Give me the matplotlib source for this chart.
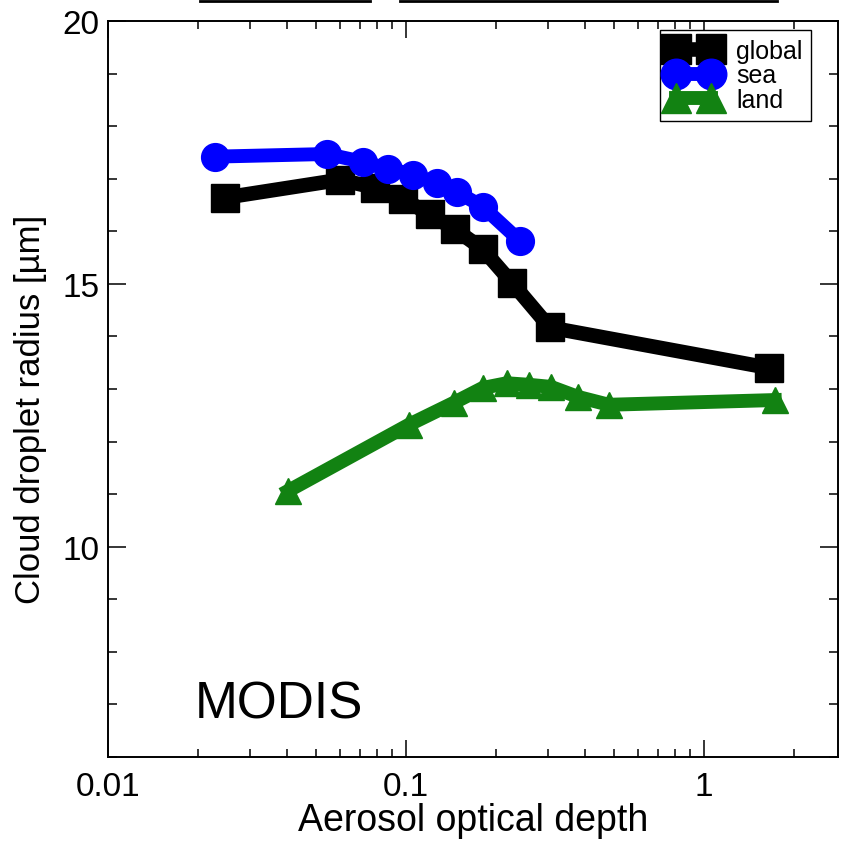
import numpy as np
import matplotlib
matplotlib.use('Agg')
import matplotlib.pyplot as plt
from matplotlib.ticker import LogLocator, FixedLocator, MultipleLocator, NullFormatter
from matplotlib.lines import Line2D

plt.rcParams['font.family'] = ['Liberation Sans', 'DejaVu Sans']

# MODIS: cloud droplet radius vs aerosol optical depth
global_aod = [0.0247, 0.0601, 0.0787, 0.0977, 0.120, 0.146, 0.181, 0.227, 0.304, 1.66]
global_re = [16.64, 16.98, 16.83, 16.62, 16.32, 16.04, 15.66, 15.02, 14.17, 13.40]

sea_aod = [0.0229, 0.0543, 0.0718, 0.0871, 0.1055, 0.127, 0.148, 0.181, 0.242]
sea_re = [17.42, 17.47, 17.32, 17.19, 17.08, 16.91, 16.75, 16.47, 15.81]

land_aod = [0.0402, 0.1023, 0.145, 0.181, 0.218, 0.259, 0.307, 0.378, 0.480, 1.73]
land_re = [11.06, 12.32, 12.74, 13.02, 13.11, 13.08, 13.04, 12.85, 12.70, 12.79]

xticks = [0.01, 0.1, 1]
xticklabels = ['0.01', '0.1', '1']
yticks = [10, 15, 20]

fig = plt.figure(figsize=(8.42, 8.45), dpi=100)
ax = fig.add_axes([108 / 842, 1 - 758 / 845, 730 / 842, 736 / 845])

ax.plot(global_aod, global_re, color='black', lw=10.5, marker='s', ms=20,
        label='global', solid_joinstyle='miter')
ax.plot(sea_aod, sea_re, color='#0000ff', lw=10, marker='o', ms=20,
        label='sea')
ax.plot(land_aod, land_re, color='#128212', lw=10, marker='^', ms=19,
        label='land')

ax.set_xscale('log')
ax.set_xlim(0.01, 2.82)
ax.set_ylim(6, 20)

ax.xaxis.set_major_locator(FixedLocator(xticks))
ax.set_xticklabels(xticklabels)
ax.xaxis.set_minor_locator(LogLocator(base=10, subs=np.arange(2, 10)))
ax.xaxis.set_minor_formatter(NullFormatter())
ax.yaxis.set_major_locator(FixedLocator(yticks))
ax.yaxis.set_minor_locator(MultipleLocator(1))

ax.tick_params(which='both', direction='in', top=True, right=True, width=1.1)
ax.tick_params(axis='x', which='major', length=12, labelsize=24, pad=10)
ax.tick_params(axis='x', which='minor', length=6)
ax.tick_params(axis='y', which='major', length=13, labelsize=24, pad=6)
ax.tick_params(axis='y', which='minor', length=6.5)
for s in ax.spines.values():
    s.set_linewidth(1.4)

ax.set_xlabel('Aerosol optical depth', fontsize=27, labelpad=0)
ax.set_ylabel('Cloud droplet radius [µm]', fontsize=25)
ax.yaxis.set_label_coords(-0.083, 0.473)

ax.text(0.119, 0.054, 'MODIS', transform=ax.transAxes, fontsize=37,
        va='baseline', ha='left')

leg = ax.legend(loc='upper right', bbox_to_anchor=(811 / 842, 1 - 31 / 845),
                bbox_transform=fig.transFigure, borderaxespad=0,
                fontsize=18, numpoints=2, markerscale=1.1,
                handlelength=2.0, handletextpad=0.7, labelspacing=0.02,
                borderpad=0.35, fancybox=False, framealpha=1)
leg.get_frame().set_edgecolor('black')
leg.get_frame().set_linewidth(1.0)

# remnants of the panel above
fig.add_artist(Line2D([200 / 842, 370 / 842], [1 - 2 / 845] * 2, color='black', lw=2))
fig.add_artist(Line2D([400 / 842, 777 / 842], [1 - 2 / 845] * 2, color='black', lw=2))

fig.savefig('out.png', dpi=100)
